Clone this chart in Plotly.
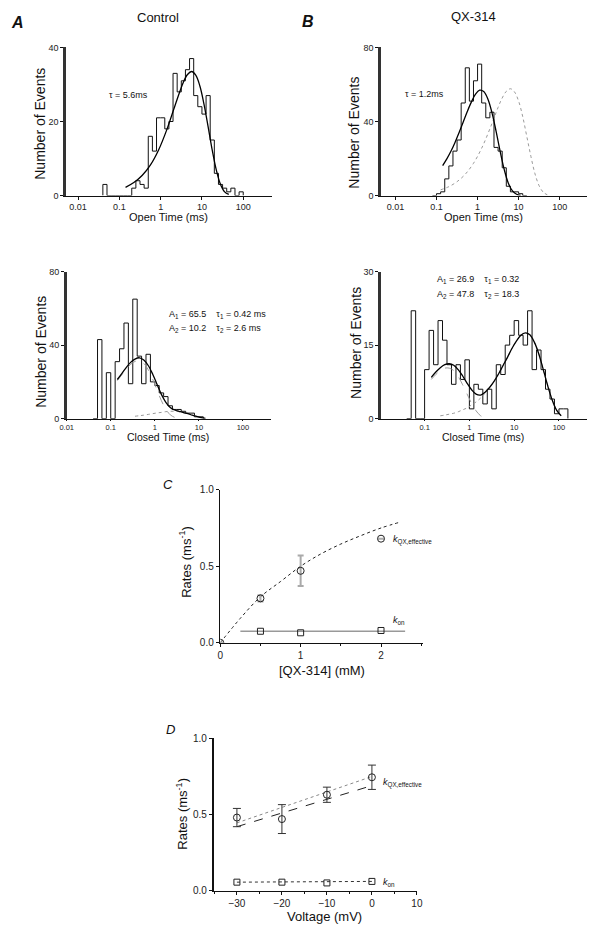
import plotly.graph_objects as go

# Figure fills the whole 600x937 page (body margin removed in post_script)
W, H = 600, 937
FONT = "Liberation Sans"

# ---------------- DATA ----------------
# Panel A (Control) open-time histogram: bin edges (log10 ms) and counts
open_ctrl_edges = [-1.4, -1.3, -1.2, -1.1, -1.0, -0.9, -0.8, -0.7, -0.6, -0.5, -0.4, -0.3, -0.2, -0.1,
                   0.0, 0.1, 0.2, 0.3, 0.4, 0.5, 0.6, 0.7, 0.8, 0.9, 1.0, 1.1, 1.2, 1.3, 1.4, 1.5,
                   1.6, 1.7, 1.8, 1.9, 2.0]
open_ctrl_counts = [3, 0, 0, 0, 0, 0, 0, 2, 4, 3, 2, 16, 12, 21, 21, 18, 20, 33, 28, 31, 34, 37, 27,
                    24, 22, 27, 15, 6, 3, 2, 1, 2, 0, 1]
open_ctrl_fit_t = [0.141, 0.224, 0.355, 0.562, 0.891, 1.41, 2.24, 3.55, 4.47, 5.62, 7.08, 8.91, 11.2,
                   14.1, 17.8, 22.4, 28.2, 35.5, 44.7]
open_ctrl_fit_n = [2.2, 3.5, 5.4, 8.2, 12.3, 17.8, 24.4, 30.6, 32.7, 33.5, 32.5, 29.6, 24.7, 18.6,
                   12.2, 6.8, 3.0, 1.0, 0.3]

# Panel B (QX-314) open-time histogram
open_qx_edges = [-1.1, -1.0, -0.9, -0.8, -0.7, -0.6, -0.5, -0.4, -0.3, -0.2, -0.1, 0.0, 0.1, 0.2,
                 0.3, 0.4, 0.5, 0.6, 0.7, 0.8, 0.9, 1.0, 1.1, 1.2]
open_qx_counts = [0, 1, 2, 9, 16, 24, 30, 50, 69, 51, 62, 71, 50, 42, 45, 26, 24, 15, 5, 2, 2, 1, 0]
open_qx_fit_t = [0.141, 0.178, 0.224, 0.282, 0.355, 0.447, 0.562, 0.708, 0.891, 1.12, 1.41, 1.78,
                 2.24, 2.82, 3.55, 4.47, 5.62, 7.08, 8.91, 11.2]
open_qx_fit_n = [16.2, 19.8, 23.9, 28.7, 34.0, 39.7, 45.4, 50.6, 54.8, 56.9, 56.2, 52.2, 44.8, 34.8,
                 23.9, 14.0, 6.7, 2.5, 0.7, 0.1]
open_ctrl_scaled_t = [0.126, 0.2, 0.316, 0.501, 0.794, 1.26, 2.0, 3.16, 3.98, 5.01, 6.31, 7.94, 10.0,
                      12.6, 15.8, 20.0, 25.1, 31.6, 39.8, 50.1]
open_ctrl_scaled_n = [3.1, 4.8, 7.5, 11.5, 17.4, 25.6, 36.1, 47.6, 52.7, 56.3, 57.7, 56.0, 51.0, 42.6,
                      32.0, 21.0, 11.7, 5.3, 1.8, 0.4]

# Panel A (Control) closed-time histogram
closed_ctrl_edges = [-1.4, -1.3, -1.2, -1.1, -1.0, -0.9, -0.8, -0.7, -0.6, -0.5, -0.4, -0.3, -0.2,
                     -0.1, 0.0, 0.1, 0.2, 0.3, 0.4, 0.5, 0.6, 0.7, 0.8, 0.9, 1.0, 1.1]
closed_ctrl_counts = [0, 43, 0, 25, 0, 31, 38, 52, 19, 65, 34, 19, 35, 20, 18, 14, 12, 7, 5, 5, 4, 3,
                      3, 1, 1]
closed_ctrl_fit_t = [0.141, 0.178, 0.224, 0.282, 0.355, 0.447, 0.562, 0.708, 0.891, 1.12, 1.41, 1.78,
                     2.24, 2.82, 3.55, 4.47, 5.62, 7.08, 8.91, 11.2, 14.1]
closed_ctrl_fit_n = [21.3, 24.5, 27.8, 30.6, 32.4, 33.1, 31.9, 28.9, 24.3, 18.7, 13.2, 8.9, 6.1, 4.7,
                     4.0, 3.3, 2.7, 1.9, 1.2, 0.6, 0.2]
closed_ctrl_c1_t = [0.141, 0.178, 0.224, 0.282, 0.355, 0.447, 0.562, 0.708, 0.891, 1.12, 1.41, 1.78,
                    2.24, 2.82, 3.55]
closed_ctrl_c1_n = [20.7, 23.8, 26.9, 29.5, 31.1, 31.5, 30.0, 26.6, 21.6, 15.6, 9.8, 5.1, 2.1, 0.7, 0.15]
closed_ctrl_c2_t = [0.355, 0.447, 0.562, 0.708, 0.891, 1.12, 1.41, 1.78, 2.24, 2.82, 3.55, 4.47, 5.62,
                    7.08, 8.91, 11.2, 14.1]
closed_ctrl_c2_n = [1.3, 1.6, 1.9, 2.3, 2.7, 3.1, 3.4, 3.8, 4.0, 4.0, 3.8, 3.3, 2.7, 1.9, 1.2, 0.6, 0.2]

# Panel B (QX-314) closed-time histogram
closed_qx_edges = [-1.4, -1.3, -1.2, -1.1, -1.0, -0.9, -0.8, -0.7, -0.6, -0.5, -0.4, -0.3, -0.2, -0.1,
                   0.0, 0.1, 0.2, 0.3, 0.4, 0.5, 0.6, 0.7, 0.8, 0.9, 1.0, 1.1, 1.2, 1.3, 1.4, 1.5,
                   1.6, 1.7, 1.8, 1.9, 2.0, 2.1, 2.2]
closed_qx_counts = [0, 22, 0, 0, 10, 18, 11, 20, 16, 11, 7, 11, 8, 12, 2, 7, 6, 3, 6, 2, 11, 9, 15,
                    17, 20, 17, 15, 22, 10, 14, 10, 6, 4, 1, 2, 2]
closed_qx_fit_t = [0.141, 0.178, 0.224, 0.282, 0.355, 0.447, 0.562, 0.708, 0.891, 1.12, 1.41, 1.78,
                   2.24, 2.82, 3.55, 4.47, 5.62, 7.08, 8.91, 11.2, 14.1, 17.8, 22.4, 28.2, 35.5,
                   44.7, 56.2, 70.8, 89.1, 112]
closed_qx_fit_n = [8.4, 9.5, 10.4, 11.0, 11.2, 10.9, 10.0, 8.7, 7.2, 5.9, 5.0, 4.8, 5.4, 6.35, 7.6,
                   9.1, 10.8, 12.5, 14.3, 15.8, 17.0, 17.5, 17.1, 15.6, 13.2, 10.0, 6.7, 3.8, 1.7, 0.6]
closed_qx_c1_t = [0.141, 0.178, 0.224, 0.282, 0.355, 0.447, 0.562, 0.708, 0.891, 1.12, 1.41, 1.78,
                  2.24, 2.82]
closed_qx_c1_n = [8.0, 9.0, 9.8, 10.3, 10.3, 9.8, 8.6, 6.9, 5.0, 3.1, 1.6, 0.6, 0.2, 0.05]
closed_qx_c2_t = [0.224, 0.282, 0.355, 0.447, 0.562, 0.708, 0.891, 1.12, 1.41, 1.78, 2.24, 2.82,
                  3.55, 4.47, 5.62, 7.08, 8.91, 11.2, 14.1, 17.8, 22.4, 28.2, 35.5, 44.7, 56.2,
                  70.8, 89.1, 112]
closed_qx_c2_n = [0.58, 0.73, 0.91, 1.1, 1.4, 1.8, 2.2, 2.8, 3.4, 4.2, 5.2, 6.3, 7.6, 9.1, 10.8,
                  12.5, 14.3, 15.8, 17.0, 17.5, 17.1, 15.6, 13.2, 10.0, 6.7, 3.8, 1.7, 0.6]

log_tick_vals = [0.01, 0.1, 1, 10, 100]
log_tick_text = ["0.01", "0.1", "1", "10", "100"]

# Panel C: rates vs [QX-314]
qx_conc = [0, 0.5, 1.0, 2.0]
kqx_c = [0.0, 0.29, 0.47, 0.68]
kqx_c_err = [0.0, 0.02, 0.10, 0.0]
kqx_fit_conc = [0, 0.25, 0.5, 0.75, 1.0, 1.25, 1.5, 1.75, 2.0, 2.25]
kqx_fit_rate = [0, 0.16, 0.30, 0.40, 0.50, 0.58, 0.645, 0.70, 0.75, 0.79]
kon_conc = [0.5, 1.0, 2.0]
kon_c = [0.075, 0.065, 0.08]
kon_line_conc = [0.25, 2.3]
kon_line_rate = [0.075, 0.075]

# Panel D: rates vs voltage
voltage = [-30, -20, -10, 0]
kqx_d = [0.48, 0.47, 0.63, 0.745]
kqx_d_err = [0.06, 0.095, 0.05, 0.08]
kqx_fit1_v = [-30, 0]
kqx_fit1_rate = [0.445, 0.75]
kqx_fit2_v = [-30, 0]
kqx_fit2_rate = [0.42, 0.69]
kon_d = [0.055, 0.055, 0.05, 0.06]
kon_fit_v = [-30, 0]
kon_fit_rate = [0.055, 0.06]


# ---------------- HELPERS (page pixel -> paper fraction) ----------------
def px(x):
    return min(1.0, max(0.0, x / W))


def py(y):
    return min(1.0, max(0.0, 1 - y / H))


def stair(edges, counts):
    xs = [10 ** edges[0]]
    ys = [0]
    for e, c in zip(edges[:-1], counts):
        xs.append(10 ** e)
        ys.append(c)
    xs.append(10 ** edges[-1])
    ys.append(counts[-1])
    xs.append(10 ** edges[-1])
    ys.append(0)
    return xs, ys


fig = go.Figure()


def hist(edges, counts, ax):
    xs, ys = stair(edges, counts)
    fig.add_trace(go.Scatter(x=xs, y=ys, mode="lines", line=dict(color="#111", width=1, shape="hv"),
                             xaxis="x" + ax, yaxis="y" + ax, showlegend=False, hoverinfo="skip"))


def curve(t, n, ax, color="#000", width=1.3, dash="solid"):
    fig.add_trace(go.Scatter(x=t, y=n, mode="lines",
                             line=dict(color=color, width=width, dash=dash, shape="spline"),
                             xaxis="x" + ax, yaxis="y" + ax, showlegend=False, hoverinfo="skip"))


# Panel A top
hist(open_ctrl_edges, open_ctrl_counts, "")
curve(open_ctrl_fit_t, open_ctrl_fit_n, "")
# Panel B top
hist(open_qx_edges, open_qx_counts, "2")
curve(open_ctrl_scaled_t, open_ctrl_scaled_n, "2", color="#9a9a9a", width=1, dash="dot")
curve(open_qx_fit_t, open_qx_fit_n, "2")
# Panel A bottom
hist(closed_ctrl_edges, closed_ctrl_counts, "3")
curve(closed_ctrl_c1_t, closed_ctrl_c1_n, "3", color="#9a9a9a", width=1, dash="dash")
curve(closed_ctrl_c2_t, closed_ctrl_c2_n, "3", color="#9a9a9a", width=1, dash="dot")
curve(closed_ctrl_fit_t, closed_ctrl_fit_n, "3")
# Panel B bottom
hist(closed_qx_edges, closed_qx_counts, "4")
curve(closed_qx_c1_t, closed_qx_c1_n, "4", color="#9a9a9a", width=1, dash="dash")
curve(closed_qx_c2_t, closed_qx_c2_n, "4", color="#9a9a9a", width=1, dash="dot")
curve(closed_qx_fit_t, closed_qx_fit_n, "4")

# Panel C
fig.add_trace(go.Scatter(x=kqx_fit_conc, y=kqx_fit_rate, mode="lines",
                         line=dict(color="#222", width=1, dash="dot", shape="spline"),
                         xaxis="x5", yaxis="y5", showlegend=False))
fig.add_trace(go.Scatter(x=kon_line_conc, y=kon_line_rate, mode="lines",
                         line=dict(color="#999", width=1.5),
                         xaxis="x5", yaxis="y5", showlegend=False))
fig.add_trace(go.Scatter(x=qx_conc, y=kqx_c, mode="markers",
                         marker=dict(symbol="circle-open", size=7, color="#222", line=dict(width=1)),
                         error_y=dict(type="data", array=kqx_c_err, color="#aaa", thickness=2, width=3),
                         xaxis="x5", yaxis="y5", showlegend=False))
fig.add_trace(go.Scatter(x=kon_conc, y=kon_c, mode="markers",
                         marker=dict(symbol="square-open", size=6, color="#222", line=dict(width=1)),
                         xaxis="x5", yaxis="y5", showlegend=False))

# Panel D
fig.add_trace(go.Scatter(x=kqx_fit1_v, y=kqx_fit1_rate, mode="lines",
                         line=dict(color="#888", width=1, dash="dot"),
                         xaxis="x6", yaxis="y6", showlegend=False))
fig.add_trace(go.Scatter(x=kqx_fit2_v, y=kqx_fit2_rate, mode="lines",
                         line=dict(color="#222", width=1, dash="dash"),
                         xaxis="x6", yaxis="y6", showlegend=False))
fig.add_trace(go.Scatter(x=kon_fit_v, y=kon_fit_rate, mode="lines",
                         line=dict(color="#333", width=1, dash="dot"),
                         xaxis="x6", yaxis="y6", showlegend=False))
fig.add_trace(go.Scatter(x=voltage, y=kqx_d, mode="markers",
                         marker=dict(symbol="circle-open", size=7, color="#222", line=dict(width=1)),
                         error_y=dict(type="data", array=kqx_d_err, color="#333", thickness=1, width=4),
                         xaxis="x6", yaxis="y6", showlegend=False))
fig.add_trace(go.Scatter(x=voltage, y=kon_d, mode="markers",
                         marker=dict(symbol="square-open", size=6, color="#222", line=dict(width=1)),
                         xaxis="x6", yaxis="y6", showlegend=False))

# ---------------- AXES ----------------
base = dict(showline=True, linecolor="#111", linewidth=1, ticks="outside", ticklen=3, tickwidth=1,
            tickcolor="#111", showgrid=False, zeroline=False,
            tickfont=dict(family=FONT, size=9, color="#222"))


def logx(dom, rng, anchor, fsize=9, tlen=3):
    d = dict(base)
    d.update(domain=[px(dom[0]), px(dom[1])], type="log", range=rng, tickvals=log_tick_vals,
             ticktext=log_tick_text, anchor=anchor, ticklen=tlen,
             tickfont=dict(family=FONT, size=fsize, color="#222"))
    return d


def liny(dom, rng, tv, anchor, lw=2.5):
    d = dict(base)
    d.update(domain=[py(dom[0]), py(dom[1])], range=rng, tickvals=tv, anchor=anchor,
             linewidth=lw, linecolor="#333")
    return d


layout = dict(
    width=W, height=H, margin=dict(l=0, r=0, t=0, b=0), autosize=False,
    paper_bgcolor="white", plot_bgcolor="white", showlegend=False,
    xaxis=logx((60, 271), [-2.3, 2.7], "y"),
    yaxis=liny((192, 42), [0, 40], [0, 20, 40], "x"),
    xaxis2=logx((382, 593), [-2.36, 2.67], "y2"),
    yaxis2=liny((192, 42), [0, 80], [0, 40, 80], "x2"),
    xaxis3=logx((61, 270), [-2.0, 2.64], "y3", fsize=7.5, tlen=1),
    yaxis3=liny((418, 269), [0, 80], [0, 40, 80], "x3"),
    xaxis4=logx((382, 593), [-1.98, 2.63], "y4", fsize=7.5, tlen=1),
    yaxis4=liny((418, 269), [0, 30], [0, 15, 30], "x4"),
)

xc = dict(base)
xc.update(domain=[px(218), px(425)], range=[0, 2.52], tickvals=[0, 1, 2], anchor="y5",
          tickfont=dict(family=FONT, size=10, color="#222"),
          minor=dict(ticks="outside", ticklen=2, dtick=0.5, tickcolor="#111"))
yc = dict(base)
yc.update(domain=[py(645), py(490)], range=[0, 1.0], tickvals=[0, 0.5, 1.0],
          ticktext=["0.0", "0.5", "1.0"], anchor="x5", linewidth=1.5,
          tickfont=dict(family=FONT, size=10, color="#222"))
xd = dict(base)
xd.update(domain=[px(212), px(419)], range=[-35, 10], tickvals=[-30, -20, -10, 0, 10], anchor="y6",
          tickfont=dict(family=FONT, size=10, color="#222"),
          minor=dict(ticks="outside", ticklen=2, dtick=5, tickcolor="#111"))
yd = dict(base)
yd.update(domain=[py(896), py(742)], range=[0, 1.0], tickvals=[0, 0.5, 1.0],
          ticktext=["0.0", "0.5", "1.0"], anchor="x6", linewidth=2.5,
          tickfont=dict(family=FONT, size=10, color="#222"))
layout.update(xaxis5=xc, yaxis5=yc, xaxis6=xd, yaxis6=yd)
fig.update_layout(**layout)


# ---------------- TEXT ----------------
def ann(x, y, text, size=10, angle=0, xanchor="center", color="#111"):
    fig.add_annotation(x=px(x), y=py(y), xref="paper", yref="paper", text=text, showarrow=False,
                       textangle=angle, xanchor=xanchor, yanchor="middle",
                       font=dict(family=FONT, size=size, color=color))


ann(11, 17, "<b><i>A</i></b>", size=16)
ann(308, 16, "<b><i>B</i></b>", size=16)
ann(154, 12, "Control", size=13)
ann(477, 11, "QX-314", size=13)
ann(124, 90, "τ = 5.6ms", size=9)
ann(427, 89, "τ = 1.2ms", size=9)
ann(34, 119, "Number of Events", size=14, angle=-90)
ann(355, 128, "Number of Events", size=14, angle=-90)
ann(34, 350, "Number of Events", size=14, angle=-90)
ann(356, 341, "Number of Events", size=14, angle=-90)
ann(165, 214, "Open Time (ms)", size=11)
ann(487, 214, "Open Time (ms)", size=11)
ann(165, 437, "Closed Time (ms)", size=10.5)
ann(487, 437, "Closed Time (ms)", size=10.5)
ann(164, 312, "A<sub>1</sub> = 65.5    τ<sub>1</sub> = 0.42 ms", size=9, xanchor="left")
ann(164, 327, "A<sub>2</sub> = 10.2    τ<sub>2</sub> = 2.6 ms", size=9, xanchor="left")
ann(437, 277, "A<sub>1</sub> = 26.9    τ<sub>1</sub> = 0.32", size=9, xanchor="left")
ann(437, 292, "A<sub>2</sub> = 47.8    τ<sub>2</sub> = 18.3", size=9, xanchor="left")

ann(165, 485, "<i>C</i>", size=13)
ann(182, 563, "Rates (ms<sup>-1</sup>)", size=13, angle=-90)
ann(322, 673, "[QX-314] (mM)", size=13)
ann(392, 541, "<i>k</i><sub>QX,effective</sub>", size=9, xanchor="left")
ann(392, 622, "<i>k</i><sub>on</sub>", size=9, xanchor="left")

ann(167, 733, "<i>D</i>", size=13)
ann(178, 818, "Rates (ms<sup>-1</sup>)", size=13, angle=-90)
ann(325, 922, "Voltage (mV)", size=13)
ann(382, 787, "<i>k</i><sub>QX,effective</sub>", size=9, xanchor="left")
ann(382, 888, "<i>k</i><sub>on</sub>", size=9, xanchor="left")

fig.write_html(
    "out.html",
    config={"displayModeBar": False, "staticPlot": True},
    post_script=("document.documentElement.style.margin='0px';"
                 "document.body.style.margin='0px';document.body.style.padding='0px';"
                 "document.documentElement.style.overflow='hidden';"
                 "document.body.style.overflow='hidden';"),
)
